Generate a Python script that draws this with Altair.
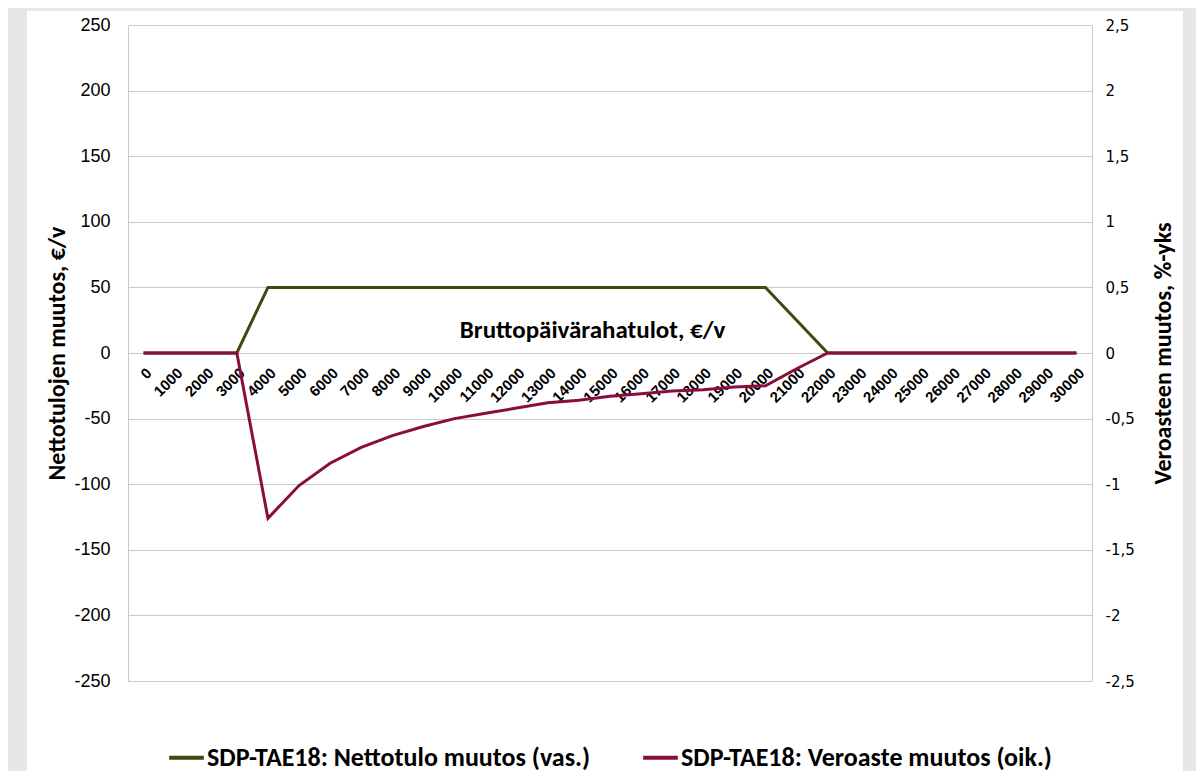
import altair as alt
import pandas as pd

incomes = [0, 1000, 2000, 3000, 4000, 5000, 6000, 7000, 8000, 9000, 10000,
           11000, 12000, 13000, 14000, 15000, 16000, 17000, 18000, 19000, 20000,
           21000, 22000, 23000, 24000, 25000, 26000, 27000, 28000, 29000, 30000]
netto = [0, 0, 0, 0, 50, 50, 50, 50, 50, 50, 50,
         50, 50, 50, 50, 50, 50, 50, 50, 50, 50,
         25, 0, 0, 0, 0, 0, 0, 0, 0, 0]
vero = [0, 0, 0, 0, -1.26, -1.01, -0.84, -0.72, -0.63, -0.56, -0.50,
        -0.46, -0.42, -0.38, -0.36, -0.33, -0.31, -0.29, -0.28, -0.26, -0.25,
        -0.12, 0, 0, 0, 0, 0, 0, 0, 0, 0]
series_names = ["SDP-TAE18: Nettotulo muutos (vas.)", "SDP-TAE18: Veroaste muutos (oik.)"]
series_colors = ["#3c4c10", "#8a0e3c"]
left_ticks = [-250, -200, -150, -100, -50, 0, 50, 100, 150, 200, 250]
right_ticks = [-2.5, -2, -1.5, -1, -0.5, 0, 0.5, 1, 1.5, 2, 2.5]

df = pd.DataFrame({"tulo": incomes, "netto": netto, "vero": vero})

W, H = 964, 656
FONT = "Carlito, Liberation Sans Narrow, Liberation Sans"
BG = "#e7e7e7"
GRID = "#c9c9c9"

color = alt.Color(
    "series:N",
    scale=alt.Scale(domain=series_names, range=series_colors),
    legend=alt.Legend(
        orient="none", legendX=39, legendY=713, direction="horizontal", title=None,
        symbolType="stroke", symbolStrokeWidth=4, symbolSize=1200,
        labelFont=FONT, labelFontSize=26, labelFontWeight="bold", labelColor="#000000",
        columnPadding=44, labelLimit=0, labelOffset=1,
    ),
)

x_enc = alt.X(
    "tulo:O", sort=None, scale=alt.Scale(padding=0.5),
    axis=alt.Axis(
        title="Bruttopäivärahatulot, €/v", labelAngle=315, labelAlign="right",
        labelBaseline="top", offset=-328, domain=False, ticks=False, grid=False,
        labelFont="Liberation Sans", labelFontSize=15, labelFontWeight="bold",
        labelColor="#000000", labelPadding=12,
        titleX=464, titleY=-24, titleBaseline="middle", titleAlign="center",
        titleFont=FONT, titleFontSize=25, titleFontWeight="bold", titleColor="#000000",
    ),
)

left = alt.Chart(df).transform_calculate(series=f"'{series_names[0]}'").mark_line(
    strokeWidth=3
).encode(
    x=x_enc,
    y=alt.Y(
        "netto:Q", scale=alt.Scale(domain=[-250, 250], nice=False),
        axis=alt.Axis(
            values=left_ticks, labelExpr="'' + datum.value", grid=True, gridColor=GRID,
            domain=True, domainColor=GRID, ticks=False, labelPadding=18,
            labelFont="Liberation Sans", labelFontSize=18, labelColor="#000000",
            title="Nettotulojen muutos, €/v", titleX=-71, titleY=328, titleAngle=270,
            titleAlign="center", titleBaseline="middle",
            titleFont=FONT, titleFontSize=24, titleFontWeight="bold", titleColor="#000000",
        ),
    ),
    color=color,
)

right = alt.Chart(df).transform_calculate(series=f"'{series_names[1]}'").mark_line(
    strokeWidth=3
).encode(
    x=alt.X("tulo:O", sort=None),
    y=alt.Y(
        "vero:Q", scale=alt.Scale(domain=[-2.5, 2.5], nice=False),
        axis=alt.Axis(
            orient="right", values=right_ticks,
            labelExpr="replace('' + datum.value, '.', ',')", grid=False,
            domain=True, domainColor=GRID, ticks=False, labelPadding=13,
            labelFont="DejaVu Sans", labelFontSize=15, labelColor="#000000",
            title="Veroasteen muutos, %-yks", titleX=71, titleY=328, titleAngle=270,
            titleAlign="center", titleBaseline="middle",
            titleFont=FONT, titleFontSize=24, titleFontWeight="bold", titleColor="#000000",
        ),
    ),
    color=color,
)

frame_data = alt.Data(values=[{"k": 1}])
strip_left = alt.Chart(frame_data).mark_rect(color=BG).encode(
    x=alt.value(-130), x2=alt.value(-101), y=alt.value(-30), y2=alt.value(820))
strip_top = alt.Chart(frame_data).mark_rect(color=BG).encode(
    x=alt.value(-130), x2=alt.value(1100), y=alt.value(-30), y2=alt.value(-14))
strip_right = alt.Chart(frame_data).mark_rect(color=BG).encode(
    x=alt.value(1055), x2=alt.value(1100), y=alt.value(-30), y2=alt.value(820))

chart = alt.layer(left, right, strip_left, strip_top, strip_right).resolve_scale(
    y="independent"
).properties(
    width=W, height=H, background="#ffffff",
    padding={"left": 120, "top": 17, "right": 104, "bottom": 110},
    autosize=alt.AutoSizeParams(type="none"),
).configure_view(stroke=None)

chart.save("out.html", embed_options={"renderer": "svg", "actions": False})
